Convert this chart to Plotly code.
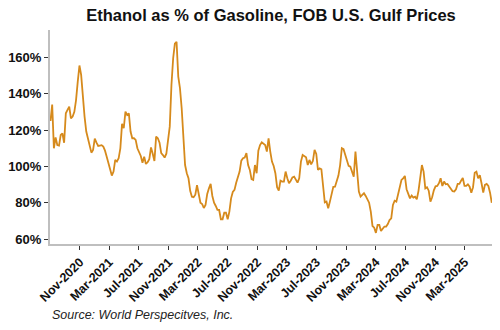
import pandas as pd
import plotly.graph_objects as go

title_text = "Ethanol as % of Gasoline, FOB U.S. Gulf Prices"
source_text = "Source: World Perspecitves, Inc."
start_date = "2020-07-03"

ratio_pct = [
    125, 134, 110, 116, 111.8, 111.5, 117.3, 118.2, 113, 129.2,
    131.1, 132.9, 126.5, 127.4, 130, 136.5, 146.6, 155.5, 150.3, 136.6,
    127.4, 119.2, 115.1, 110, 107.6, 109.1, 115.3, 113.1, 111.3, 111.5,
    111.7, 110.9, 108.7, 105.4, 102.1, 99, 95, 97.2, 103.6, 102.7,
    104.5, 110, 123.4, 121, 130.1, 128.3, 129.2, 119.2, 115.5, 115.5,
    114.6, 110, 107.6, 105.8, 102.1, 105.4, 101.4, 102.3, 104, 110.5,
    107, 103, 116.4, 115.5, 113.1, 107.3, 106.3, 104.9, 107, 114.6,
    121.9, 144.8, 159.5, 167.5, 168.5, 149.4, 143, 132, 113.7, 100.8,
    96.3, 93.5, 86.6, 83.4, 83.1, 84.5, 89.7, 84.9, 80.1, 79.4,
    77.2, 78.9, 84.9, 88, 90.4, 83.8, 80.1, 78.3, 76.1, 76.1,
    71, 71, 74.6, 74.6, 71, 75.2, 82.5, 86, 87.1, 91.1,
    94.4, 97.2, 103.2, 104.5, 104.9, 107.3, 100.8, 98.1, 93, 92.6,
    100.8, 96.3, 108.7, 111.8, 113.3, 112.7, 111.8, 108.2, 115.5, 108.2,
    102.7, 100.3, 96.3, 88.6, 86.7, 92.2, 91.7, 91.7, 97.2, 93.5,
    90.8, 92.2, 94, 94.4, 92.6, 91.1, 93.5, 102.7, 106.3, 105.4,
    105, 100.8, 103.6, 101.2, 103, 109.1, 106.9, 98.1, 99, 98.5,
    88, 80.3, 80.7, 77, 80.7, 85.6, 88.8, 88.9, 92.6, 95,
    100.8, 110, 109.5, 106.3, 103.6, 100.3, 99.9, 96.6, 94.4, 108.2,
    97.2, 86.2, 83.4, 84.4, 85.3, 83.8, 81.6, 80.1, 75.2, 67.3,
    66.4, 63.5, 67.9, 67.9, 64.6, 66, 67, 67, 68.4, 70.6,
    71.5, 78.9, 81.2, 80.7, 84.4, 88.6, 92.6, 93.5, 94.8, 87.5,
    85.3, 82.5, 84, 82.9, 83.4, 82, 86.6, 92.6, 100.8, 97.2,
    88, 88.6, 86.7, 80.7, 83.1, 86.9, 89.1, 89.3, 90.8, 93.5,
    89.3, 91.7, 90.2, 90.4, 89.1, 88.4, 86.4, 86.2, 87.5, 90.4,
    90.4, 92.2, 93.7, 89.3, 89.3, 90.2, 88.9, 85.6, 88.6, 96.6,
    97.2, 93.5, 95.2, 90.8, 85.6, 89.9, 90.4, 89.3, 85.6, 80,
]

dates = pd.date_range(start=start_date, periods=len(ratio_pct), freq="7D")

y_ticks = [60, 80, 100, 120, 140, 160]
y_tick_labels = ["60%", "80%", "100%", "120%", "140%", "160%"]
x_ticks = ["2020-11-01", "2021-03-01", "2021-07-01", "2021-11-01", "2022-03-01",
           "2022-07-01", "2022-11-01", "2023-03-01", "2023-07-01", "2023-11-01",
           "2024-03-01", "2024-07-01", "2024-11-01", "2025-03-01"]
x_tick_labels = ["Nov-2020", "Mar-2021", "Jul-2021", "Nov-2021", "Mar-2022",
                 "Jul-2022", "Nov-2022", "Mar-2023", "Jul-2023", "Nov-2023",
                 "Mar-2024", "Jul-2024", "Nov-2024", "Mar-2025"]

FONT = "Liberation Sans, Arial, sans-serif"

fig = go.Figure()
fig.add_trace(go.Scatter(
    x=dates, y=ratio_pct, mode="lines",
    line=dict(color="#D68A1C", width=1.8),
    hoverinfo="skip", showlegend=False,
))

fig.update_layout(
    width=500, height=330,
    margin=dict(l=50, r=8, t=30, b=86),
    paper_bgcolor="white", plot_bgcolor="white",
    font=dict(family=FONT, color="#111111"),
    title=dict(text="<b>" + title_text + "</b>", x=0.542, xanchor="center",
               y=0.955, yanchor="middle", font=dict(size=16.5, color="#111111")),
    showlegend=False,
)

fig.update_yaxes(
    range=[57.4, 175], tickvals=y_ticks, ticktext=y_tick_labels,
    showgrid=False, zeroline=False,
    showline=True, linecolor="#BFBFBF", linewidth=2,
    ticks="outside", ticklen=4, tickcolor="#333333", tickwidth=1,
    tickfont=dict(size=13, family=FONT, color="#111111", weight="bold"),
)

fig.update_xaxes(
    type="date", range=["2020-07-01", "2025-06-21"],
    tickvals=x_ticks, ticktext=x_tick_labels, tickangle=-45,
    showgrid=False, zeroline=False,
    showline=True, linecolor="#BFBFBF", linewidth=2,
    ticks="outside", ticklen=4, tickcolor="#333333", tickwidth=1,
    tickfont=dict(size=12.5, family=FONT, color="#111111", weight="bold"),
)

fig.add_annotation(
    text="<i>" + source_text + "</i>", xref="paper", yref="paper",
    x=0.0, y=-0.0, xanchor="left", yanchor="top", yshift=-62, showarrow=False,
    font=dict(size=12.5, family=FONT, color="#222222"),
)

fig.write_html("out.html")
